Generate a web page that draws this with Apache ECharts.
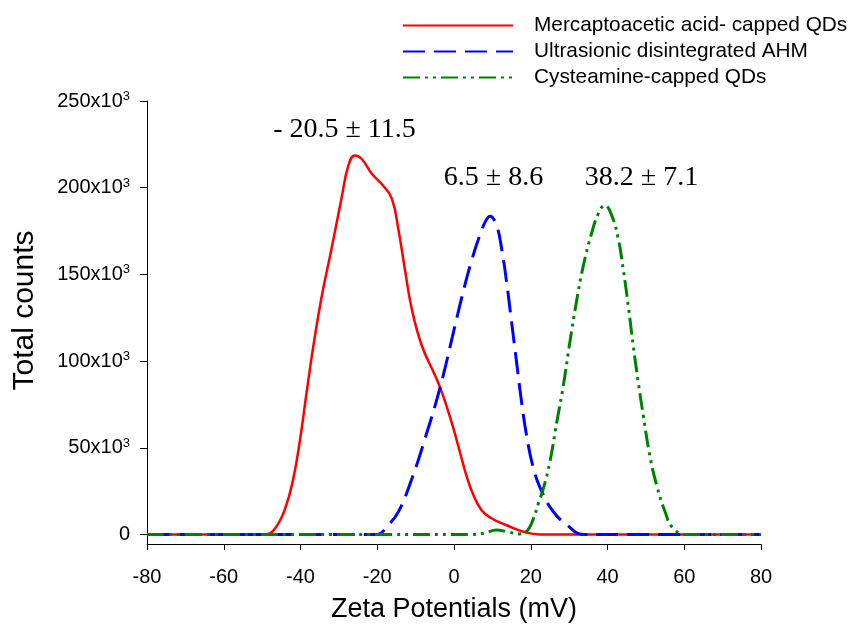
<!DOCTYPE html>
<html>
<head>
<meta charset="utf-8">
<script src="https://cdn.jsdelivr.net/npm/echarts@6/dist/echarts.min.js"></script>
<style>html,body{margin:0;padding:0;background:#fff}#c{width:851px;height:630px}</style>
</head>
<body>
<div id="c"></div>
<script>
// ---- data ----
const seriesNames = ['Mercaptoacetic acid- capped QDs', 'Ultrasionic disintegrated AHM', 'Cysteamine-capped QDs'];
const redX = [-80, -60, -51, -49.2, -46.6, -44.0, -41.9, -40.1, -38.4, -36.7, -34.5, -31.9, -29.3, -27.5, -25.8, -24.1, -21.4, -18.4, -16.2, -14.5, -12.8, -11.0, -8.4, -5.0, -3.5, -2.0, 0, 1.6, 3.3, 5.0, 7.2, 9.4, 13.7, 18.1, 22.4, 30, 80];
const redY = [0, 0, 0, 0, 3600, 15000, 32000, 55000, 82000, 108000, 137000, 165000, 194000, 213000, 218600, 216700, 208000, 201000, 193700, 176000, 153000, 130000, 109000, 92000, 84000, 74500, 60000, 47000, 33500, 23000, 14000, 9800, 5300, 1600, 0, 0, 0];
const blueX = [-80, -40, -22, -20.1, -17.1, -14.5, -11.0, -7.6, -3.6, 0, 2.4, 4.6, 6.8, 8.3, 9.4, 11.1, 12.4, 13.7, 15.0, 16.3, 17.6, 18.9, 20.7, 22.9, 25.9, 29.4, 33.7, 40, 80];
const blueY = [0, 0, 0, 0, 5500, 13000, 32000, 55000, 85000, 118000, 140000, 158000, 173000, 181000, 183600, 178000, 165000, 145600, 122600, 99500, 76500, 57300, 38100, 24700, 13100, 5500, 0, 0, 0];
const greenX = [-80, -20, 4, 8, 11.1, 14, 17, 19, 20.5, 22, 23.3, 25.0, 26.8, 28.5, 30.2, 31.9, 33.7, 35.9, 37.6, 39.3, 41.1, 42.8, 44.1, 45.4, 46.7, 48.0, 49.3, 51.0, 52.8, 55.0, 57.1, 60.6, 66, 80];
const greenY = [0, 0, 0, 800, 2600, 1500, 300, 2000, 8000, 18000, 26600, 42000, 65000, 86000, 111000, 134000, 155000, 174000, 185000, 189800, 184000, 170600, 153000, 132000, 109000, 88000, 69000, 45800, 28500, 13100, 3600, 0, 0, 0];
const xTicks = [-80, -60, -40, -20, 0, 20, 40, 60, 80];
const yTicks = [0, 50000, 100000, 150000, 200000, 250000];
const annotations = ['- 20.5 \u00B1 11.5', '6.5 \u00B1 8.6', '38.2 \u00B1 7.1'];
const xTitle = 'Zeta Potentials (mV)';
const yTitle = 'Total counts';

const zip = (xs, ys) => xs.map((x, i) => [x, ys[i]]);
const colors = ['#ff0000', '#0000ff', '#008000'];

const chart = echarts.init(document.getElementById('c'), null, {renderer: 'canvas'});
const sans = 'Liberation Sans';

const option = {
  animation: false,
  backgroundColor: '#ffffff',
  grid: {left: 147, right: 90, top: 101, bottom: 86, containLabel: false},
  legend: {
    orient: 'vertical',
    left: 397,
    top: 10,
    itemWidth: 110,
    itemHeight: 14,
    itemGap: 5,
    data: seriesNames,
    itemStyle: {opacity: 0, borderWidth: 0},
    textStyle: {fontFamily: sans, fontSize: 20.8, color: '#000', lineHeight: 21, padding: [0, 0, 0, 16]}
  },
  xAxis: {
    type: 'value',
    min: -80, max: 80, interval: 20,
    name: xTitle,
    nameLocation: 'middle',
    nameGap: 52,
    nameTextStyle: {fontFamily: sans, fontSize: 27, color: '#000'},
    axisLine: {onZero: false, lineStyle: {color: '#000', width: 1}},
    axisTick: {show: true, inside: false, length: 6, lineStyle: {color: '#000'}},
    axisLabel: {fontFamily: sans, fontSize: 20, color: '#000', margin: 23},
    splitLine: {show: false}
  },
  yAxis: {
    type: 'value',
    min: -5500, max: 250000,
    name: yTitle,
    nameLocation: 'middle',
    nameRotate: 90,
    nameGap: 107,
    nameTextStyle: {fontFamily: sans, fontSize: 30, color: '#000', padding: [0, 0, 0, 24]},
    axisLine: {show: true, onZero: false, lineStyle: {color: '#000', width: 1}},
    axisTick: {show: true, inside: false, length: 7, customValues: yTicks, lineStyle: {color: '#000'}},
    axisLabel: {
      customValues: yTicks,
      fontFamily: sans, fontSize: 20, color: '#000', margin: 17, lineHeight: 22,
      formatter: v => v === 0 ? '0' : (v / 1000) + 'x10{sup|3}',
      rich: {sup: {fontFamily: sans, fontSize: 13, lineHeight: 13, verticalAlign: 'top', color: '#000'}}
    },
    splitLine: {show: false}
  },
  series: [
    {name: seriesNames[0], type: 'line', data: zip(redX, redY), smooth: 0.45, symbol: 'none', z: 2,
      lineStyle: {color: colors[0], width: 2.5, type: 'solid'}, itemStyle: {color: colors[0]}},
    {name: seriesNames[1], type: 'line', data: zip(blueX, blueY), smooth: 0.45, symbol: 'none', z: 3,
      lineStyle: {color: colors[1], width: 3, type: [22, 9], cap: 'butt'}, itemStyle: {color: colors[1]}},
    {name: seriesNames[2], type: 'line', data: zip(greenX, greenY), smooth: 0.45, symbol: 'none', z: 4,
      lineStyle: {color: colors[2], width: 3, type: [17, 5, 3, 5, 3, 5], cap: 'butt'}, itemStyle: {color: colors[2]}}
  ],
  graphic: [
    {type: 'text', x: 344.5, y: 130, style: {text: annotations[0], font: '28px "Liberation Serif"', fill: '#000', align: 'center', verticalAlign: 'middle'}},
    {type: 'text', x: 493.5, y: 178, style: {text: annotations[1], font: '28px "Liberation Serif"', fill: '#000', align: 'center', verticalAlign: 'middle'}},
    {type: 'text', x: 641.5, y: 178, style: {text: annotations[2], font: '28px "Liberation Serif"', fill: '#000', align: 'center', verticalAlign: 'middle'}}
  ]
};
chart.setOption(option);
</script>
</body>
</html>
